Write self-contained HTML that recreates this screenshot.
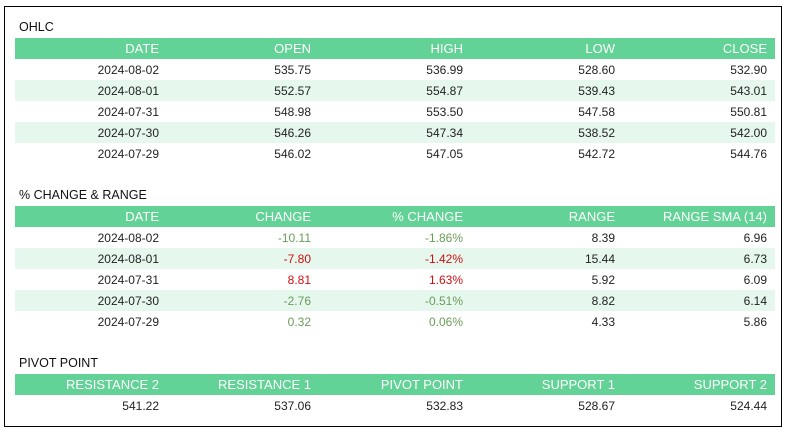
<!DOCTYPE html>
<html><head><meta charset="utf-8"><style>
body{margin:0;width:791px;height:437px;background:#fff;font-family:"Liberation Sans","DejaVu Sans",sans-serif;position:relative;overflow:hidden}
.frame{position:absolute;left:4px;top:6px;width:778px;height:421px;border:1px solid #000;box-sizing:border-box}
.title{position:absolute;left:19px;font-size:12.5px;color:#111}
table{position:absolute;left:15px;width:760px;border-collapse:collapse;table-layout:fixed}
td,th{height:21px;padding:0 8px 0 0;text-align:right;font-size:12px;color:#222;white-space:nowrap}
th{background:#62d296;color:#fff;font-weight:normal;font-size:13px}
tr.alt td{background:#e6f7ee}
.g{color:#6b9c58}.r{color:#cc1111}
</style></head><body>
<div class="frame"></div>
<div class="title" style="top:20px">OHLC</div>
<table style="top:38px">
<tr><th>DATE</th><th>OPEN</th><th>HIGH</th><th>LOW</th><th>CLOSE</th></tr>
<tr><td>2024-08-02</td><td>535.75</td><td>536.99</td><td>528.60</td><td>532.90</td></tr>
<tr class="alt"><td>2024-08-01</td><td>552.57</td><td>554.87</td><td>539.43</td><td>543.01</td></tr>
<tr><td>2024-07-31</td><td>548.98</td><td>553.50</td><td>547.58</td><td>550.81</td></tr>
<tr class="alt"><td>2024-07-30</td><td>546.26</td><td>547.34</td><td>538.52</td><td>542.00</td></tr>
<tr><td>2024-07-29</td><td>546.02</td><td>547.05</td><td>542.72</td><td>544.76</td></tr>
</table>
<div class="title" style="top:188px">% CHANGE &amp; RANGE</div>
<table style="top:206px">
<tr><th>DATE</th><th>CHANGE</th><th>% CHANGE</th><th>RANGE</th><th>RANGE SMA (14)</th></tr>
<tr><td>2024-08-02</td><td class="g">-10.11</td><td class="g">-1.86%</td><td>8.39</td><td>6.96</td></tr>
<tr class="alt"><td>2024-08-01</td><td class="r">-7.80</td><td class="r">-1.42%</td><td>15.44</td><td>6.73</td></tr>
<tr><td>2024-07-31</td><td class="r">8.81</td><td class="r">1.63%</td><td>5.92</td><td>6.09</td></tr>
<tr class="alt"><td>2024-07-30</td><td class="g">-2.76</td><td class="g">-0.51%</td><td>8.82</td><td>6.14</td></tr>
<tr><td>2024-07-29</td><td class="g">0.32</td><td class="g">0.06%</td><td>4.33</td><td>5.86</td></tr>
</table>
<div class="title" style="top:356px">PIVOT POINT</div>
<table style="top:374px">
<tr><th>RESISTANCE 2</th><th>RESISTANCE 1</th><th>PIVOT POINT</th><th>SUPPORT 1</th><th>SUPPORT 2</th></tr>
<tr><td>541.22</td><td>537.06</td><td>532.83</td><td>528.67</td><td>524.44</td></tr>
</table>
</body></html>
